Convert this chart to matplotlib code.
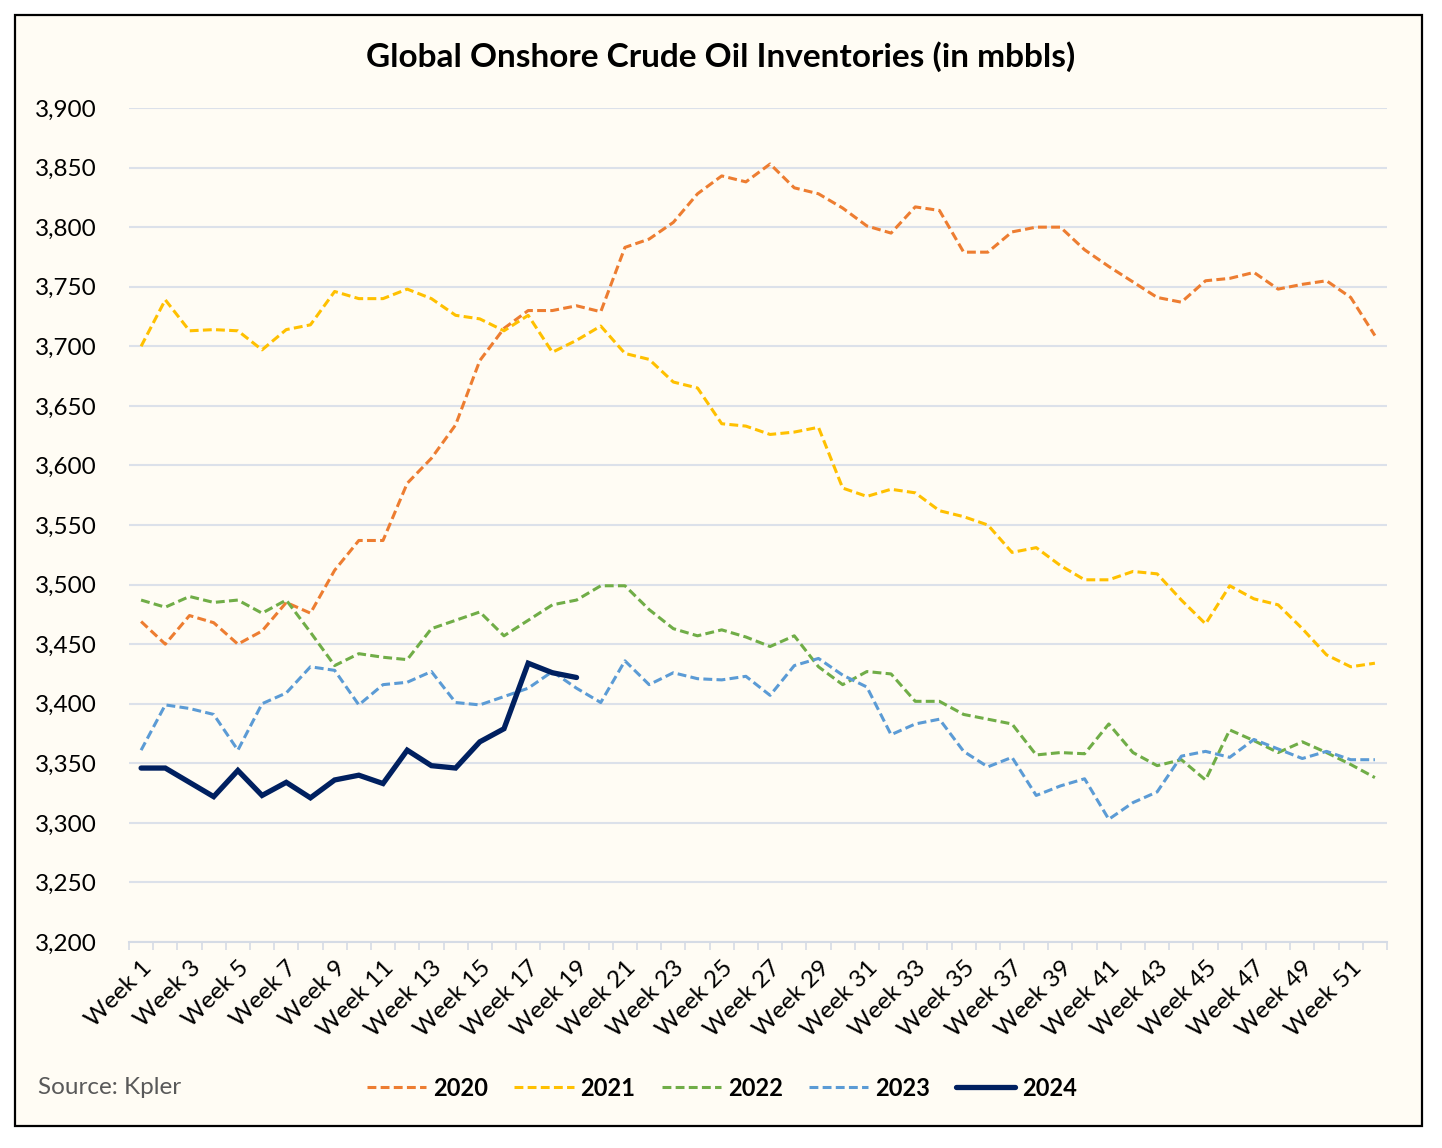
import numpy as np
import matplotlib
matplotlib.use("Agg")
from matplotlib import pyplot as plt
from matplotlib.patches import Rectangle
from matplotlib.ticker import FuncFormatter

plt.rcParams['font.family'] = ['Lato', 'DejaVu Sans']

weeks = list(range(1, 53))
week_labels = ["Week %d" % w for w in weeks]

y2020 = [3469, 3450, 3474, 3468, 3450, 3461, 3485, 3476, 3512, 3537,
         3537, 3585, 3606, 3634, 3688, 3715, 3730, 3730, 3734, 3729,
         3783, 3790, 3804, 3828, 3843, 3838, 3853, 3833, 3828, 3816,
         3801, 3795, 3817, 3814, 3779, 3779, 3796, 3800, 3800, 3781,
         3767, 3754, 3741, 3737, 3755, 3757, 3762, 3748, 3752, 3755,
         3741, 3709]
y2021 = [3700, 3739, 3713, 3714, 3713, 3697, 3714, 3718, 3746, 3740,
         3740, 3748, 3740, 3726, 3723, 3713, 3726, 3695, 3705, 3717,
         3694, 3689, 3670, 3665, 3635, 3633, 3626, 3628, 3632, 3581,
         3574, 3580, 3577, 3562, 3557, 3550, 3527, 3531, 3516, 3504,
         3504, 3511, 3509, 3487, 3467, 3499, 3488, 3483, 3463, 3441,
         3431, 3434]
y2022 = [3487, 3481, 3490, 3485, 3487, 3476, 3487, 3460, 3432, 3442,
         3439, 3437, 3463, 3470, 3477, 3457, 3470, 3483, 3487, 3499,
         3499, 3479, 3463, 3457, 3462, 3456, 3448, 3457, 3431, 3416,
         3427, 3425, 3402, 3402, 3391, 3387, 3383, 3357, 3359, 3358,
         3383, 3359, 3348, 3353, 3336, 3378, 3369, 3359, 3368, 3359,
         3349, 3338]
y2023 = [3361, 3399, 3396, 3391, 3361, 3400, 3409, 3431, 3428, 3399,
         3416, 3418, 3427, 3401, 3399, 3406, 3413, 3427, 3413, 3401,
         3436, 3416, 3426, 3421, 3420, 3423, 3407, 3432, 3438, 3424,
         3414, 3374, 3383, 3387, 3360, 3347, 3355, 3323, 3331, 3337,
         3303, 3317, 3326, 3356, 3360, 3355, 3370, 3362, 3354, 3360,
         3353, 3353]
y2024 = [3346, 3346, 3334, 3322, 3344, 3323, 3334, 3321, 3336, 3340,
         3333, 3361, 3348, 3346, 3368, 3379, 3434, 3426, 3422]

series = [("2020", y2020, "#ED7D31"),
          ("2021", y2021, "#FFC000"),
          ("2022", y2022, "#70AD47"),
          ("2023", y2023, "#5B9BD5")]

bg = "#FFFCF4"
fig = plt.figure(figsize=(14.42, 11.48), dpi=100)
fig.patch.set_facecolor("white")
# chart area frame
fig.patches.append(Rectangle((15 / 1442, 1 - 1126 / 1148), 1407 / 1442, 1111 / 1148,
                             transform=fig.transFigure, facecolor=bg,
                             edgecolor="black", linewidth=1.6, zorder=-5))

ax = fig.add_axes([129 / 1442, 1 - 942 / 1148, 1258 / 1442, 834 / 1148])
ax.set_facecolor(bg)

for name, vals, col in series:
    ax.plot(weeks[:len(vals)], vals, color=col, lw=2.2, dashes=(2.9, 1.4), label=name)
ax.plot(weeks[:len(y2024)], y2024, color="#002060", lw=3.8, label="2024",
        solid_capstyle="round", solid_joinstyle="miter")

ax.set_xlim(0.5, 52.5)
ax.set_ylim(3200, 3900)
ax.set_yticks(np.arange(3200, 3901, 50))
ax.yaxis.set_major_formatter(FuncFormatter(lambda v, p: "{:,.0f}".format(v)))
ax.grid(axis="y", color="#DCE1EA", lw=1.5)
ax.set_axisbelow(True)
for s in ["top", "right", "left"]:
    ax.spines[s].set_visible(False)
ax.spines["bottom"].set_color("#D5DBE5")
ax.spines["bottom"].set_linewidth(1.5)

ax.tick_params(axis="y", length=0, pad=23, labelsize=17.5)
ax.set_xticks(weeks[::2])
ax.set_xticklabels(week_labels[::2], rotation=45, ha="right", va="top",
                   rotation_mode="anchor", fontsize=17.5)
ax.set_xticks(np.arange(0.5, 53, 1), minor=True)
ax.tick_params(axis="x", which="major", length=0, pad=11)
ax.tick_params(axis="x", which="minor", length=6, width=1.2, color="#D5DBE5")

fig.text(0.5, 1 - 57 / 1148, "Global Onshore Crude Oil Inventories (in mbbls)",
         ha="center", va="center", fontsize=24, fontweight="bold")
fig.text(38 / 1442, 1 - 1088 / 1148, "Source: Kpler", ha="left", va="center",
         fontsize=17.5, color="#595959")

leg = fig.legend(loc="center", bbox_to_anchor=(722 / 1442, 1 - 1088 / 1148), ncol=5,
                 frameon=False, handlelength=2.5, handletextpad=0.3,
                 columnspacing=1.1, prop={"weight": "bold", "size": 17})

fig.savefig("out.png", dpi=100, facecolor=fig.get_facecolor())
